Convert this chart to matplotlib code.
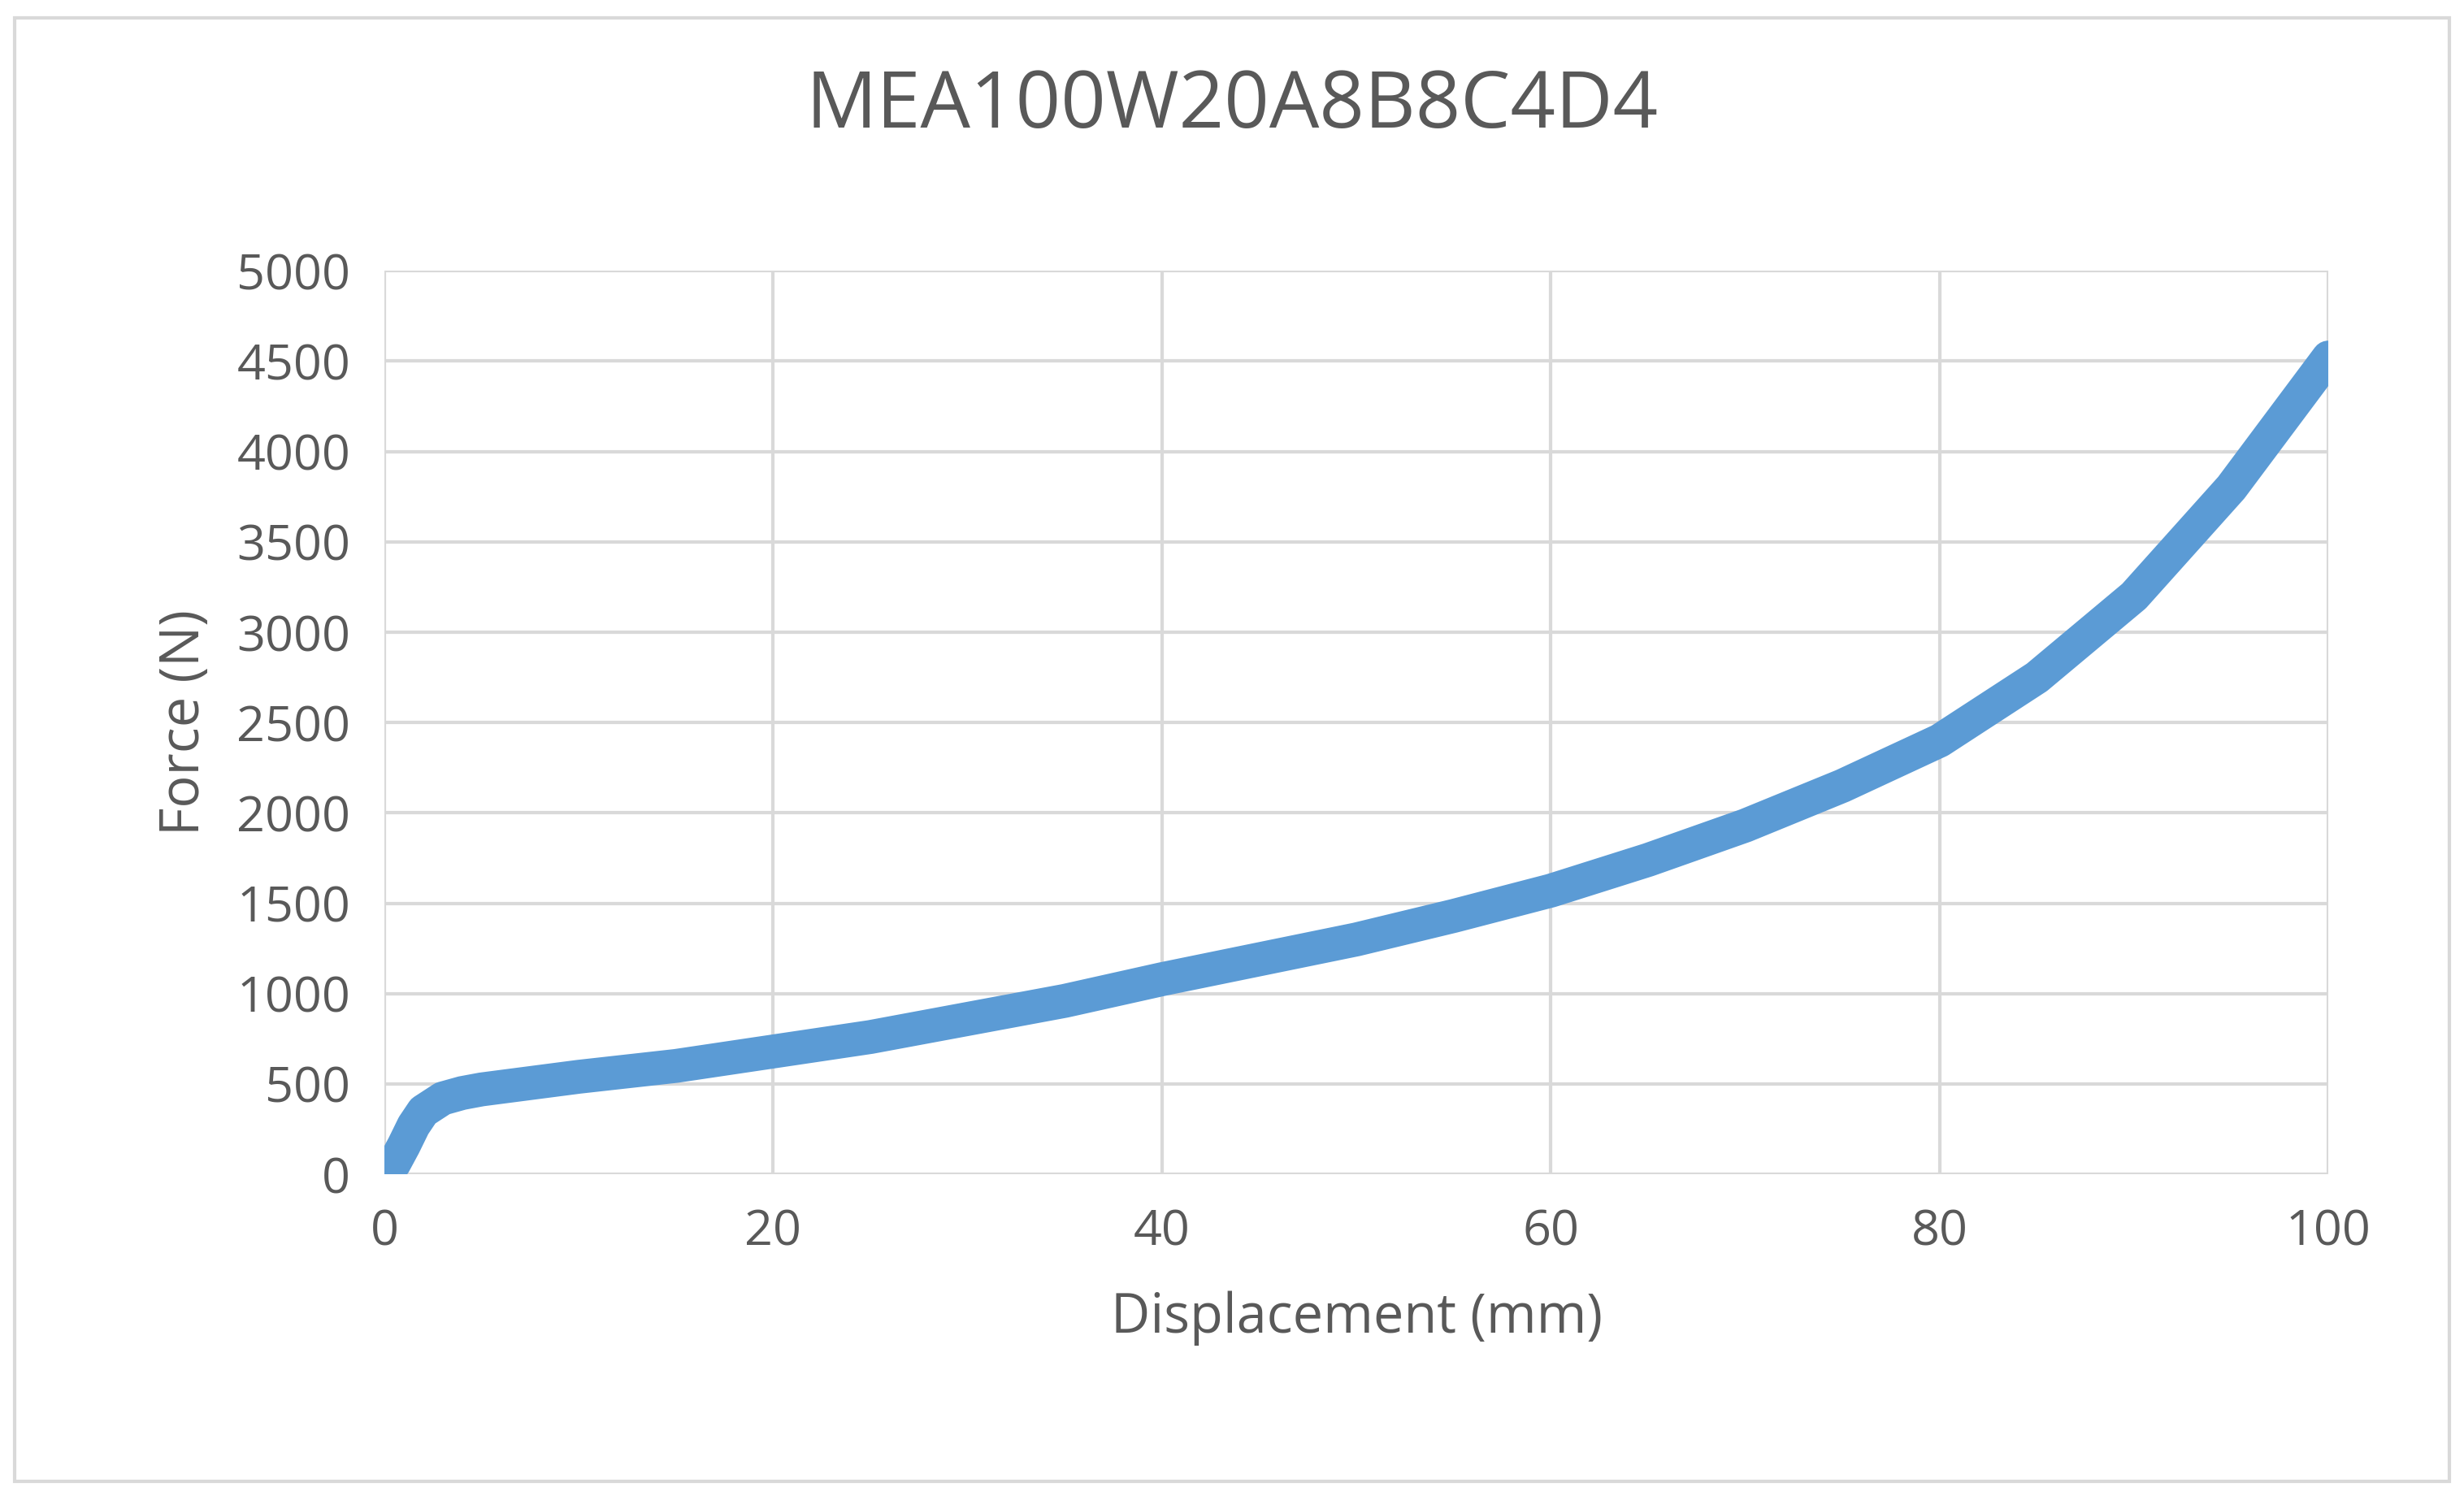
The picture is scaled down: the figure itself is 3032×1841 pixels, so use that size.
import matplotlib
matplotlib.use("Agg")
import matplotlib.pyplot as plt
from matplotlib.patches import Rectangle

disp = [0, 0.5, 1, 1.5, 2, 3, 4, 5, 10, 15, 20, 25, 30, 35, 40, 45, 50, 55, 60, 65, 70, 75, 80, 85, 90, 95, 100]
force = [0, 60, 160, 270, 350, 420, 450, 470, 540, 600, 680, 760, 860, 960, 1080, 1190, 1300, 1430, 1570, 1740, 1930, 2150, 2400, 2750, 3200, 3800, 4520]

plt.rcParams['font.family'] = ['Open Sans', 'DejaVu Sans']
fig = plt.figure(figsize=(30.32, 18.41), dpi=100)
fig.patches.append(Rectangle((0.006, 0.01), 0.988, 0.978, transform=fig.transFigure,
                             fill=False, edgecolor='#d9d9d9', linewidth=3))
ax = fig.add_axes([0.156, 0.215, 0.789, 0.604])
ax.plot(disp, force, color='#5b9bd5', linewidth=30, solid_capstyle='round', solid_joinstyle='round', zorder=3)
ax.set_xlim(0, 100)
ax.set_ylim(0, 5000)
ax.set_xticks(range(0, 101, 20))
ax.set_yticks(range(0, 5001, 500))
ax.grid(True, color='#d9d9d9', linewidth=3)
for s in ax.spines.values():
    s.set_visible(False)
ax.tick_params(length=0, labelsize=44, labelcolor='#595959', pad=30)
ax.set_xlabel('Displacement (mm)', fontsize=48, color='#595959', labelpad=30)
ax.set_ylabel('Force (N)', fontsize=48, color='#595959', labelpad=22)
fig.suptitle('MEA100W20A8B8C4D4', fontsize=70, color='#595959', y=0.955)
fig.savefig('out.png', dpi=100)
